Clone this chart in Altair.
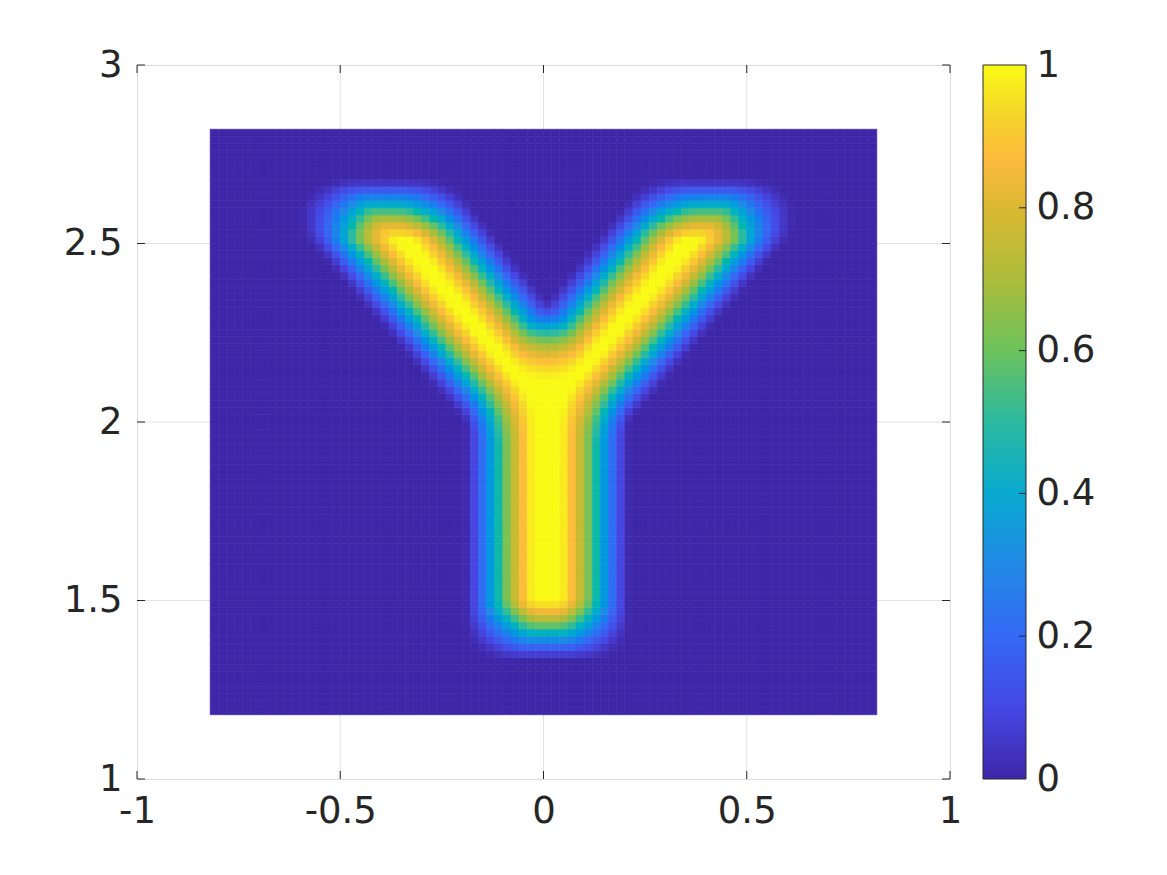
import numpy as np
import pandas as pd
import altair as alt

# ---- grid (node coordinates of the pcolor-style map) ----
GRID_X = [-0.82, 0.82]
GRID_Y = [1.18, 2.82]
GRID_STEP = 0.02

# ---- outline of the sharp "Y" before smoothing ----
OUTLINE_X = [0.0, 0.29, 0.50, 0.53, 0.118, 0.118, -0.118, -0.118, -0.53, -0.50, -0.29]
OUTLINE_Y = [2.18, 2.59, 2.59, 2.565, 2.02, 1.41, 1.41, 2.02, 2.565, 2.59, 2.59]
BLUR_RADIUS = 0.09   # radius of the round smoothing window
FINE = 0.005         # sub-sampling step used for the smoothing

# ---- colour map (parula-like) ----
CMAP_STOPS = [0.0, 0.1, 0.2, 0.3, 0.4, 0.5, 0.6, 0.7, 0.8, 0.87, 0.93, 1.0]
CMAP_COLORS = ["#3e26a8", "#4547e4", "#3469f5", "#2189e6", "#08a9cf", "#2cbaa0",
               "#6cc25c", "#acbd3a", "#dcb831", "#fdbb3c", "#f5d52a", "#f9fb15"]

XTICKS = [-1, -0.5, 0, 0.5, 1]
YTICKS = [1, 1.5, 2, 2.5, 3]
CB_TICKS = [0, 0.2, 0.4, 0.6, 0.8, 1]

# ---- build the field: sharp outline smoothed by a round window ----
fx = np.round(np.arange(-1, 1 + FINE / 2, FINE), 5)
fy = np.round(np.arange(1, 3 + FINE / 2, FINE), 5)
FX, FY = np.meshgrid(fx, fy)
px = FX.ravel()[:, None]
py = FY.ravel()[:, None]
ax_ = np.array(OUTLINE_X)
ay_ = np.array(OUTLINE_Y)
bx = np.roll(ax_, -1)
by = np.roll(ay_, -1)
cond = (ay_ > py) != (by > py)
den = np.where(by - ay_ == 0, 1e-9, by - ay_)
xint = ax_ + (py - ay_) * (bx - ax_) / den
B = ((cond & (px < xint)).sum(axis=1) % 2 == 1).astype(float).reshape(len(fy), len(fx))

nx = int(round((GRID_X[1] - GRID_X[0]) / GRID_STEP)) + 1
ny = int(round((GRID_Y[1] - GRID_Y[0]) / GRID_STEP)) + 1
xs = np.round(GRID_X[0] + GRID_STEP * np.arange(nx), 4)
ys = np.round(GRID_Y[0] + GRID_STEP * np.arange(ny), 4)
ix = np.round((xs - fx[0]) / FINE).astype(int)
iy = np.round((ys - fy[0]) / FINE).astype(int)
IX, IY = np.meshgrid(ix, iy)
r = int(round(BLUR_RADIUS / FINE))
acc = np.zeros(IX.shape)
cnt = 0
for oy in range(-r, r + 1):
    for ox in range(-r, r + 1):
        if ox * ox + oy * oy <= r * r:
            acc += B[IY + oy, IX + ox]
            cnt += 1
val = acc / cnt

rows = []
for j in range(ny - 1):
    for i in range(nx - 1):
        rows.append((xs[i], xs[i + 1], ys[j], ys[j + 1], float(val[j, i])))
df = pd.DataFrame(rows, columns=["x", "x2", "y", "y2", "v"])

FONT = "DejaVu Sans"
TXT = "#262626"
GRID = "#e3e3e3"
FS = 37
W, H = 813, 714

cscale = alt.Scale(domain=CMAP_STOPS, range=CMAP_COLORS)
xscale = alt.Scale(domain=[-1, 1], nice=False, zero=False)
yscale = alt.Scale(domain=[1, 3], nice=False, zero=False)
lbl = "datum.value < 0 ? '-' + format(-datum.value, '~g') : format(datum.value, '~g')"

XAX = alt.Axis(values=XTICKS, labelExpr=lbl, title=None, tickSize=0, domain=False,
               grid=False, labelFont=FONT, labelFontSize=FS, labelColor=TXT,
               labelPadding=14, labelFlush=False, labelOverlap=False)
YAX = alt.Axis(values=YTICKS, labelExpr=lbl, title=None, tickSize=0, domain=False,
               grid=False, labelFont=FONT, labelFontSize=FS, labelColor=TXT,
               labelPadding=15, labelFlush=False, labelOverlap=False)

xt = pd.DataFrame({"x": XTICKS})
yt = pd.DataFrame({"y": YTICKS})
xg = pd.DataFrame({"x": XTICKS[1:-1]})
yg = pd.DataFrame({"y": YTICKS[1:-1]})

grid_v = alt.Chart(xg).mark_rule(color=GRID, strokeWidth=1).encode(
    x=alt.X("x:Q", scale=xscale, axis=XAX), y=alt.value(0), y2=alt.value(H))
grid_h = alt.Chart(yg).mark_rule(color=GRID, strokeWidth=1).encode(
    y=alt.Y("y:Q", scale=yscale, axis=YAX), x=alt.value(0), x2=alt.value(W))

heat = alt.Chart(df).mark_rect(strokeWidth=0.6).encode(
    x=alt.X("x:Q", scale=xscale, axis=XAX),
    x2="x2:Q",
    y=alt.Y("y:Q", scale=yscale, axis=YAX),
    y2="y2:Q",
    color=alt.Color("v:Q", scale=cscale, legend=None),
    stroke=alt.Stroke("v:Q", scale=cscale, legend=None),
)

tick_bottom = alt.Chart(xt).mark_rule(color=TXT).encode(
    x=alt.X("x:Q", scale=xscale, axis=XAX), y=alt.value(H), y2=alt.value(H - 8))
tick_top = alt.Chart(xt).mark_rule(color=TXT).encode(
    x=alt.X("x:Q", scale=xscale, axis=XAX), y=alt.value(0), y2=alt.value(8))
tick_left = alt.Chart(yt).mark_rule(color=TXT).encode(
    y=alt.Y("y:Q", scale=yscale, axis=YAX), x=alt.value(0), x2=alt.value(8))
tick_right = alt.Chart(yt).mark_rule(color=TXT).encode(
    y=alt.Y("y:Q", scale=yscale, axis=YAX), x=alt.value(W - 8), x2=alt.value(W))

main = alt.layer(grid_v, grid_h, heat, tick_bottom, tick_top, tick_left, tick_right)

# ---- colour bar ----
CB_X0, CB_X1 = 846, 889
grad = alt.Gradient(
    gradient="linear",
    stops=[alt.GradientStop(offset=o, color=c) for o, c in zip(CMAP_STOPS, CMAP_COLORS)],
    x1=0, x2=0, y1=1, y2=0)
cbscale = alt.Scale(domain=[0, 1], nice=False, zero=False)
CBAX = alt.Axis(orient="right", offset=CB_X1 - W, values=CB_TICKS,
                labelExpr="format(datum.value, '~g')", title=None,
                tickSize=0, domain=False, grid=False,
                labelFont=FONT, labelFontSize=FS, labelColor=TXT,
                labelPadding=10, labelFlush=False, labelOverlap=False)
cb_rect = alt.Chart(pd.DataFrame({"a": [0.0], "b": [1.0]})).mark_rect(
    color=grad, stroke=TXT, strokeWidth=1).encode(
    y=alt.Y("a:Q", scale=cbscale, axis=CBAX),
    y2="b:Q",
    x=alt.value(CB_X0), x2=alt.value(CB_X1))
cb_ticks = alt.Chart(pd.DataFrame({"a": CB_TICKS[1:-1]})).mark_rule(color=TXT).encode(
    y=alt.Y("a:Q", scale=cbscale, axis=CBAX),
    x=alt.value(CB_X1 - 7), x2=alt.value(CB_X1))
cbar = alt.layer(cb_rect, cb_ticks)

chart = alt.layer(main, cbar).resolve_scale(y="independent").properties(
    width=W, height=H,
    autosize=alt.AutoSizeParams(type="none"),
    padding={"left": 129, "top": 57, "right": 200, "bottom": 80},
).configure_view(stroke=TXT, strokeWidth=1).configure(background="white")

chart.save("out.html", embed_options={"renderer": "svg", "actions": False})
